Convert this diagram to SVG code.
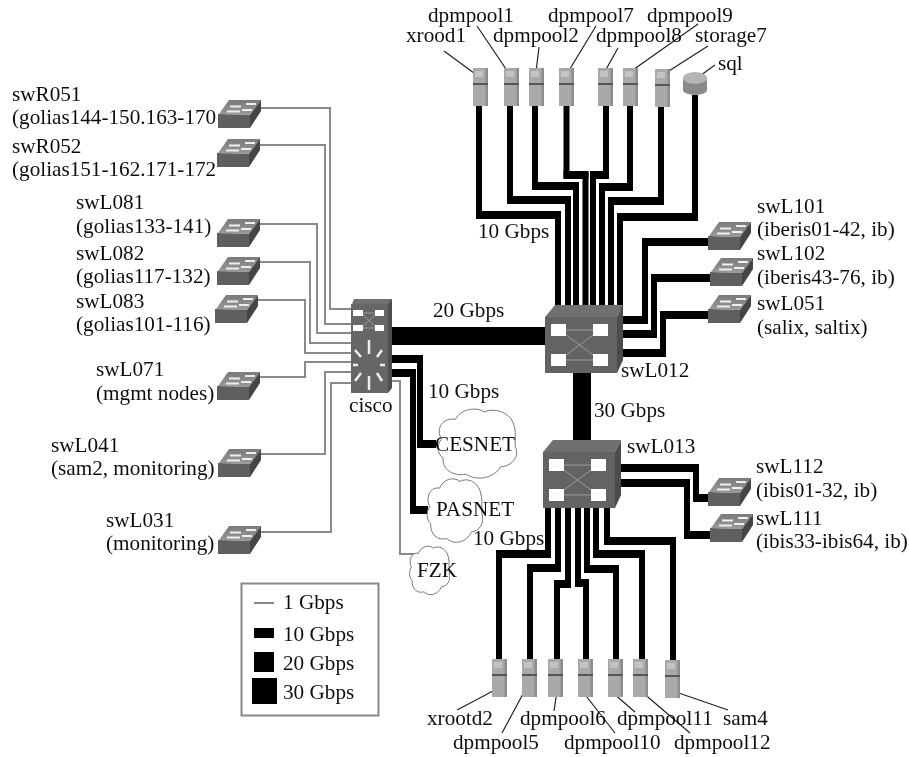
<svg xmlns="http://www.w3.org/2000/svg" width="909" height="757" viewBox="0 0 909 757">
<style>
text{font-family:"Liberation Serif","Times New Roman",serif;font-size:21.2px;fill:#111}
.g{fill:none;stroke:#8a8a8a;stroke-width:2}
.k10{fill:none;stroke:#000;stroke-width:6}
.kh{fill:none;stroke:#000;stroke-width:8}
.lead{fill:none;stroke:#222;stroke-width:1.2}
.win{fill:#fff}
.wire{fill:none;stroke:#9a9a9a;stroke-width:1}
</style>
<defs>
<filter id="b" x="-5%" y="-5%" width="110%" height="110%"><feGaussianBlur stdDeviation="0.7"/></filter>
<filter id="t" x="-5%" y="-10%" width="110%" height="120%"><feGaussianBlur stdDeviation="0.25"/></filter>
<linearGradient id="topg" x1="0" y1="0" x2="0" y2="1"><stop offset="0" stop-color="#7a7a7a"/><stop offset="1" stop-color="#9a9a9a"/></linearGradient>
<g id="sw">
<polygon points="11,0 43,0 32,15 1,14" fill="url(#topg)"/>
<polygon points="0,14 32,15 32,28 0,28" fill="#5f5f5f"/>
<polygon points="32,15 43,0 43,11 32,28" fill="#444"/>
<path d="M12,6.500h11M9,11.500h13M28,4h10M24,10h10" stroke="#eee" stroke-width="1.800" fill="none"/>
</g>
<g id="srv">
<rect width="15" height="38" fill="#a9a9a9"/>
<rect x="12.500" width="2.500" height="38" fill="#8d8d8d"/>
<rect x="2" y="3" width="8" height="6" fill="#c4c4c4"/>
<rect y="15" width="15" height="2" fill="#555"/>
</g>
<symbol id="cloud" viewBox="0 0 100 100" preserveAspectRatio="none">
<path d="M8,45C0,30 10,15 25,18C30,5 50,0 60,8C72,2 90,8 95,22C100,35 97,45 98,55C104,70 92,82 80,82C72,98 50,102 38,92C22,96 8,85 10,70C2,65 2,52 8,45Z" fill="#fff" stroke="#777" stroke-width="1" vector-effect="non-scaling-stroke"/>
</symbol>
<g id="big">
<polygon points="10,0 78,0 72,12 0,12" fill="#707070"/>
<rect y="12" width="72" height="56" fill="#646464"/>
<polygon points="72,12 78,0 78,55 72,68" fill="#4c4c4c"/>
<rect class="win" x="6" y="19" width="15" height="12"/>
<rect class="win" x="48" y="19" width="15" height="12"/>
<rect class="win" x="6" y="49" width="15" height="12"/>
<rect class="win" x="48" y="49" width="15" height="12"/>
<path class="wire" d="M21,25H48M21,55H48M21,50L48,30M21,30L48,50"/>
</g>
</defs>

<g id="connectors" filter="url(#b)">
<path class="g" d="M258,108H330V309H351"/>
<path class="g" d="M258,145H325V324H351"/>
<path class="g" d="M258,224H317V333H351"/>
<path class="g" d="M258,262H310V343H351"/>
<path class="g" d="M255,300H305V353H351"/>
<path class="g" d="M258,377H305V362H351"/>
<path class="g" d="M260,454H325V372H351"/>
<path class="g" d="M258,532H331V383H351"/>
<path class="g" d="M392,381H400V554H415"/>
<path class="k10" d="M392,359H420V444H436"/>
<path class="k10" d="M392,373H413V510H428"/>
<path class="kh" d="M392,359H423M417,444H436M392,373H416M410,510H428"/>
<path d="M392,336H545" fill="none" stroke="#000" stroke-width="18"/>
<path d="M582,373V440" fill="none" stroke="#000" stroke-width="18"/>
<path class="k10" d="M479,106V215H558V310"/>
<path class="k10" d="M510,106V200H568V310"/>
<path class="k10" d="M535,106V186H576V310"/>
<path class="k10" d="M566.500,106V175H585.500V310"/>
<path class="k10" d="M606,106V175H593V310"/>
<path class="k10" d="M630,106V187H602V310"/>
<path class="k10" d="M661,106V201H611V310"/>
<path class="k10" d="M695,95V217H620V310"/>
<path class="kh" d="M476,215H561M507,200H571M532,186H579M563.500,175H588.500M590,175H609M599,187H633M608,201H664M617,217H698"/>
<path class="k10" d="M618,320H645V242H709"/>
<path class="k10" d="M618,334H654V278H711"/>
<path class="k10" d="M618,353H663V315H709"/>
<path class="k10" d="M612,468H696V498H709"/>
<path class="k10" d="M612,483H687V535H711"/>
<path class="kh" d="M618,320H648M642,242H709M618,334H657M651,278H711M618,353H666M660,315H709M612,468H699M693,498H709M612,483H690M684,535H711"/>
<path class="k10" d="M548,505V554H499V660"/>
<path class="k10" d="M558,505V568H530V660"/>
<path class="k10" d="M568,505V584H557V660"/>
<path class="k10" d="M578,505V583H586V660"/>
<path class="k10" d="M587,505V569H616V660"/>
<path class="k10" d="M596,505V554H642V660"/>
<path class="k10" d="M607,505V541H673V662"/>
<path class="kh" d="M496,554H551M527,568H561M554,584H571M575,583H589M584,569H619M593,554H645M604,541H676"/>
</g>

<g id="leaders" filter="url(#t)">
<path class="lead" d="M478,76L444,51M508,72L477,26M536,72L539,47M568,72L596,26M604,73L618,48M630,72L698,24M661,76L708,46M697,78L715,65"/>
<path class="lead" d="M493,691L457,710M525,690L502,733M557,691L554,711M583,692L615,733M613,693L635,712M642,692L690,733M670,690L728,710"/>
</g>

<g filter="url(#b)">
<g id="xrood1"><use href="#srv" x="473" y="68"/></g>
<g id="dpmpool1"><use href="#srv" x="504" y="68"/></g>
<g id="dpmpool2"><use href="#srv" x="529" y="68"/></g>
<g id="dpmpool7"><use href="#srv" x="559" y="68"/></g>
<g id="dpmpool8"><use href="#srv" x="598" y="68"/></g>
<g id="dpmpool9"><use href="#srv" x="623" y="68"/></g>
<g id="storage7"><use href="#srv" x="655" y="69"/></g>
<g id="sql">
<path d="M683,78V90A12,5 0 0 0 707,90V78Z" fill="#8a8a8a"/>
<ellipse cx="695" cy="78" rx="12" ry="6" fill="#b5b5b5"/>
</g>
<g id="xrootd2"><use href="#srv" x="492" y="659"/></g>
<g id="dpmpool5"><use href="#srv" x="522" y="659"/></g>
<g id="dpmpool6"><use href="#srv" x="548" y="659"/></g>
<g id="dpmpool10"><use href="#srv" x="578" y="659"/></g>
<g id="dpmpool11"><use href="#srv" x="608" y="659"/></g>
<g id="dpmpool12"><use href="#srv" x="633" y="659"/></g>
<g id="sam4"><use href="#srv" x="665" y="660"/></g>

<g id="swR051"><use href="#sw" x="218" y="100"/></g>
<g id="swR052"><use href="#sw" x="217" y="139"/></g>
<g id="swL081"><use href="#sw" x="217" y="219"/></g>
<g id="swL082"><use href="#sw" x="217" y="257"/></g>
<g id="swL083"><use href="#sw" x="215" y="295"/></g>
<g id="swL071"><use href="#sw" x="217" y="372"/></g>
<g id="swL041"><use href="#sw" x="218" y="449"/></g>
<g id="swL031"><use href="#sw" x="218" y="526"/></g>
<g id="swL101"><use href="#sw" x="708" y="222"/></g>
<g id="swL102"><use href="#sw" x="710" y="258"/></g>
<g id="swL051"><use href="#sw" x="708" y="295"/></g>
<g id="swL112"><use href="#sw" x="708" y="478"/></g>
<g id="swL111"><use href="#sw" x="710" y="514"/></g>

<g id="swL012"><use href="#big" x="545" y="305"/></g>
<g id="swL013"><use href="#big" x="543" y="440"/></g>

<g id="cisco">
<polygon points="354,299 392,299 388,307 351,307" fill="#707070"/>
<rect x="351" y="304" width="37" height="89" fill="#666"/>
<polygon points="388,304 392,299 392,388 388,393" fill="#505050"/>
<rect class="win" x="353" y="310" width="10" height="6"/>
<rect class="win" x="375" y="310" width="9" height="6"/>
<rect class="win" x="353" y="325" width="10" height="6"/>
<rect class="win" x="375" y="325" width="9" height="6"/>
<path class="wire" d="M363,313H375M363,328H375M363,326L375,315M363,315L375,326"/>
<path d="M369,354V340M369,376V390M358,365H353M380,365H385M361,357L355,350M377,357L382,350M361,373L355,381M377,373L382,381" stroke="#eee" stroke-width="2.500" fill="none"/>
</g>
</g>

<g id="CESNET"><use href="#cloud" x="435" y="406" width="82" height="74"/></g>
<g id="PASNET"><use href="#cloud" x="425" y="476" width="58" height="68"/></g>
<g id="FZK"><use href="#cloud" x="408" y="544" width="42" height="52"/></g>

<g id="legend" filter="url(#t)">
<rect x="241.500" y="583.500" width="137" height="132" fill="#fff" stroke="#888" stroke-width="2"/>
<path d="M254,603H274" stroke="#8a8a8a" stroke-width="2" fill="none"/>
<rect x="254" y="628" width="20" height="10" fill="#000"/>
<rect x="254" y="652" width="20" height="20" fill="#000"/>
<rect x="252" y="678" width="25" height="26" fill="#000"/>
<text x="283" y="609">1 Gbps</text>
<text x="283" y="641">10 Gbps</text>
<text x="283" y="670">20 Gbps</text>
<text x="283" y="699">30 Gbps</text>
</g>

<g id="labels" filter="url(#t)">
<text x="428" y="22">dpmpool1</text>
<text x="406" y="42">xrood1</text>
<text x="493" y="42">dpmpool2</text>
<text x="548" y="22">dpmpool7</text>
<text x="596" y="42">dpmpool8</text>
<text x="647" y="22">dpmpool9</text>
<text x="695" y="42">storage7</text>
<text x="718" y="70">sql</text>
<text x="12" y="101">swR051</text>
<text x="12" y="124">(golias144-150.163-170</text>
<text x="12" y="153">swR052</text>
<text x="12" y="176">(golias151-162.171-172</text>
<text x="76" y="209">swL081</text>
<text x="76" y="233">(golias133-141)</text>
<text x="76" y="260">swL082</text>
<text x="76" y="283">(golias117-132)</text>
<text x="76" y="308">swL083</text>
<text x="76" y="331">(golias101-116)</text>
<text x="96" y="376">swL071</text>
<text x="96" y="400">(mgmt nodes)</text>
<text x="51" y="452">swL041</text>
<text x="51" y="475">(sam2, monitoring)</text>
<text x="106" y="527">swL031</text>
<text x="106" y="550">(monitoring)</text>
<text x="757" y="213">swL101</text>
<text x="757" y="236">(iberis01-42, ib)</text>
<text x="757" y="260">swL102</text>
<text x="757" y="284">(iberis43-76, ib)</text>
<text x="757" y="310">swL051</text>
<text x="757" y="334">(salix, saltix)</text>
<text x="621" y="377">swL012</text>
<text x="627" y="453">swL013</text>
<text x="756" y="473">swL112</text>
<text x="756" y="497">(ibis01-32, ib)</text>
<text x="756" y="525">swL111</text>
<text x="756" y="548">(ibis33-ibis64, ib)</text>
<text x="433" y="317">20 Gbps</text>
<text x="478" y="238">10 Gbps</text>
<text x="428" y="398">10 Gbps</text>
<text x="594" y="417">30 Gbps</text>
<text x="473" y="545">10 Gbps</text>
<text x="349" y="412">cisco</text>
<text x="435" y="451">CESNET</text>
<text x="436" y="516">PASNET</text>
<text x="417" y="577">FZK</text>
<text x="427" y="725">xrootd2</text>
<text x="453" y="749">dpmpool5</text>
<text x="520" y="725">dpmpool6</text>
<text x="564" y="749">dpmpool10</text>
<text x="617" y="725">dpmpool11</text>
<text x="674" y="749">dpmpool12</text>
<text x="723" y="725">sam4</text>
</g>
</svg>
